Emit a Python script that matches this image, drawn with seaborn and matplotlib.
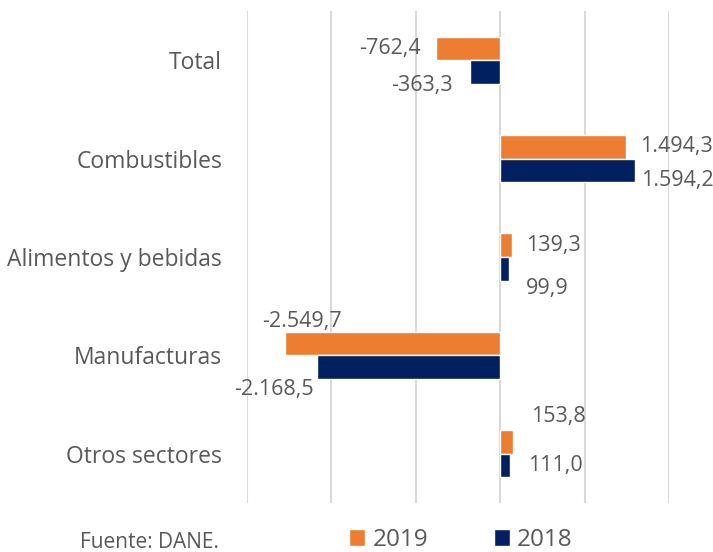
import matplotlib
matplotlib.use("Agg")
import matplotlib.pyplot as plt
import seaborn as sns
import pandas as pd
from matplotlib.patches import Patch

categories = ["Total", "Combustibles", "Alimentos y bebidas", "Manufacturas", "Otros sectores"]
series_names = ["2019", "2018"]
values_2019 = [-762.4, 1494.3, 139.3, -2549.7, 153.8]
values_2018 = [-363.3, 1594.2, 99.9, -2168.5, 111.0]
source_text = "Fuente: DANE."

colors = {"2019": "#ED7D31", "2018": "#002060"}
text_color = "#595959"

df = pd.DataFrame({
    "cat": categories * 2,
    "year": ["2019"] * len(categories) + ["2018"] * len(categories),
    "val": values_2019 + values_2018,
})

sns.set_theme(style="white")
plt.rcParams["font.family"] = ["Open Sans", "DejaVu Sans"]

fig = plt.figure(figsize=(7.13, 5.52), dpi=100)
ax = fig.add_axes([247 / 713, 1 - 503 / 552, (669 - 247) / 713, (503 - 11) / 552])

sns.barplot(data=df, x="val", y="cat", hue="year", hue_order=series_names,
            order=categories, palette=colors, orient="h", width=0.48,
            ax=ax, legend=False, saturation=1)

ax.set_xlim(-3000, 2000)
ax.set_xticks(range(-3000, 2001, 1000))
ax.set_xticklabels([])
ax.tick_params(axis="x", length=0)
ax.grid(axis="x", color="#D9D9D9", linewidth=1.5)
ax.set_axisbelow(True)
for s in ax.spines.values():
    s.set_visible(False)
ax.set_xlabel("")
ax.set_ylabel("")
ax.tick_params(axis="y", length=0, pad=18, labelsize=16.5, labelcolor=text_color)

def fmt(v):
    s = f"{abs(v):,.1f}"
    s = s.replace(",", "X").replace(".", ",").replace("X", ".")
    return ("-" if v < 0 else "") + s

# label offsets (pixels) and alignment per bar, styling only
offsets_2019 = [(-15, 0, "right"), (14, 0, "left"), (14, 0, "left"), (17, 22, "center"), (18, 25, "left")]
offsets_2018 = [(-17, -13, "right"), (6, -10, "left"), (17, -20, "left"), (-3, -22, "right"), (18, 0, "left")]

containers = ax.containers
for cont, vals, offs in zip(containers, [values_2019, values_2018], [offsets_2019, offsets_2018]):
    for bar, v, (dx, dy, ha) in zip(cont, vals, offs):
        yc = bar.get_y() + bar.get_height() / 2
        ax.annotate(fmt(v), xy=(v, yc), xytext=(dx, dy), textcoords="offset pixels",
                    ha=ha, va="center", fontsize=15.5, color=text_color)

handles = [Patch(facecolor=colors[n], label=n) for n in series_names]
fig.legend(handles=handles, loc="center", bbox_to_anchor=(461 / 713, 1 - 540 / 552),
           ncol=2, frameon=False, fontsize=17.5, handlelength=0.65, handleheight=0.65,
           handletextpad=0.3, columnspacing=2.7, labelcolor=text_color)

fig.text(80 / 713, 1 - 542 / 552, source_text, ha="left", va="center", fontsize=15, color=text_color)

fig.savefig("out.png", dpi=100)
